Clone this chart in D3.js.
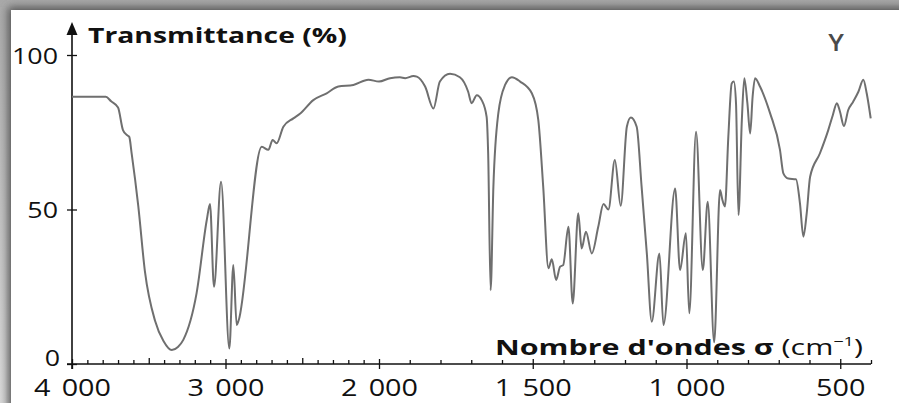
<!DOCTYPE html>
<html>
<head>
<meta charset="utf-8">
<script src="https://cdn.jsdelivr.net/npm/d3@7"></script>
<style>
  html, body { margin: 0; padding: 0; background: #ffffff; }
  svg { display: block; }
  text { font-family: "Open Sans", "Noto Sans", sans-serif; }
</style>
</head>
<body>
<svg id="chart" width="899" height="403"></svg>
<script>
// Infrared spectrum of compound Y
// wavenumber sigma (cm^-1), descending
const wavenumbers = [
  4000, 3780, 3745, 3700, 3668, 3640, 3627, 3611, 3568, 3525, 3459, 3405, 3350, 3310, 3275, 3188, 3122,
  3101, 3075, 3029, 2975, 2949, 2927, 2915, 2764, 2721, 2693, 2667, 2623, 2558, 2515, 2428, 2341, 2265,
  2167, 2069, 2000, 1964, 1932, 1915, 1888, 1877, 1850, 1823, 1802, 1769, 1737, 1710, 1699, 1682, 1666,
  1650, 1645, 1637, 1628, 1612, 1590, 1568, 1541, 1503, 1482, 1466, 1449, 1438, 1424, 1411, 1401, 1384,
  1370, 1352, 1341, 1327, 1308, 1287, 1270, 1254, 1233, 1214, 1194, 1181, 1162, 1146, 1129, 1113, 1088,
  1075, 1037, 1021, 1002, 991, 969, 947, 931, 910, 891, 883, 875, 864, 853, 846, 839, 831, 820, 812, 802,
  793, 785, 777, 761, 728, 696, 685, 669, 644, 631, 620, 609, 598, 566, 539, 524, 511, 501, 488, 474, 458,
  441, 425, 414, 401
];
// transmittance (%) at each wavenumber
const transmittance = [
  86.5, 86.5, 85.0, 83.0, 75.7, 74.0, 73.5, 68.0, 51.0, 30.0, 14.0, 7.5, 4.5, 5.5, 7.8, 23.0, 46.6,
  51.8, 25.0, 59.0, 5.0, 32.0, 12.6, 14.0, 70.3, 69.3, 72.5, 71.4, 76.8, 79.5, 81.0, 85.4, 87.6, 89.8,
  90.3, 92.0, 91.4, 92.5, 92.8, 92.5, 93.2, 93.0, 89.8, 82.7, 91.4, 93.9, 92.8, 88.1, 84.4, 87.0, 85.4,
  80.0, 68.2, 23.9, 57.4, 81.1, 90.3, 92.8, 91.4, 87.6, 79.0, 57.4, 31.0, 33.9, 27.2, 31.5, 32.0, 44.4,
  19.6, 48.8, 37.4, 42.8, 35.8, 44.4, 51.8, 50.0, 66.0, 51.2, 76.8, 79.8, 76.8, 57.4, 35.8, 13.7, 35.8,
  12.6, 56.8, 30.4, 42.3, 16.4, 75.2, 30.4, 52.5, 7.0, 56.3, 53.0, 51.0, 73.5, 90.8, 91.4, 84.4, 48.2,
  79.0, 92.5, 84.4, 74.6, 86.5, 92.5, 89.8, 81.1, 69.3, 61.7, 60.0, 59.8, 52.0, 41.2, 48.8, 60.6, 68.2,
  75.7, 80.6, 84.4, 81.7, 77.0, 82.2, 84.9, 88.1, 92.0, 87.6, 79.5
];

// Axis ticks
const xTickValues = [4000, 3000, 2000, 1500, 1000, 500];
const xTickLabels = ["4 000", "3 000", "2 000", "1 500", "1 000", "500"];
const xMidTicks = [3500, 2500];
const xMinorTicks = d3.range(3900, 399, -100).filter(v => !xTickValues.includes(v) && !xMidTicks.includes(v));
const yTickValues = [0, 50, 100];
const yTickLabels = ["0", "50", "100"];

const svg = d3.select("#chart");
const W = 899, H = 403;

// ---- page background with a soft shadow along the top and left edges ----
const defs = svg.append("defs");
const blur = defs.append("filter").attr("id", "soft").attr("x", "-10%").attr("y", "-10%").attr("width", "120%").attr("height", "120%");
blur.append("feGaussianBlur").attr("stdDeviation", 4);
const topGrad = defs.append("linearGradient").attr("id", "topGrad").attr("x1", 0).attr("y1", 0).attr("x2", 0).attr("y2", 1);
topGrad.append("stop").attr("offset", "0%").attr("stop-color", "#a9a9a9");
topGrad.append("stop").attr("offset", "100%").attr("stop-color", "#d9d9d9");

svg.append("rect").attr("width", W).attr("height", H).attr("fill", "url(#topGrad)");
svg.append("rect").attr("x", 8).attr("y", 7).attr("width", W + 20).attr("height", H + 20)
  .attr("fill", "#555").attr("filter", "url(#soft)");
svg.append("rect").attr("x", 11).attr("y", 10).attr("width", W + 20).attr("height", H + 20)
  .attr("fill", "#ffffff");

// ---- scales: the wavenumber axis doubles its scale below 2000 cm-1 ----
const x = d3.scaleLinear().domain([4000, 2000, 400]).range([72, 379, 871]);
const y = d3.scaleLinear().domain([0, 100]).range([364, 55]);

const axisColor = "#111";

// minor ticks (inside, pointing up)
const gMinor = svg.append("g").attr("transform", `translate(0,${y(0)})`)
  .call(d3.axisBottom(x).tickValues(xMinorTicks).tickSize(-4).tickFormat(""));
const gMid = svg.append("g").attr("transform", `translate(0,${y(0)})`)
  .call(d3.axisBottom(x).tickValues(xMidTicks).tickSize(-6).tickFormat(""));
const gMajor = svg.append("g").attr("transform", `translate(0,${y(0)})`)
  .call(d3.axisBottom(x).tickValues(xTickValues).tickSize(5)
    .tickFormat((d, i) => xTickLabels[i]));
[gMinor, gMid, gMajor].forEach(g => {
  g.select(".domain").remove();
  g.selectAll(".tick line").attr("stroke", axisColor).attr("stroke-width", 1.3);
});
gMajor.selectAll(".tick line").attr("y1", -5).attr("y2", 5);
gMajor.selectAll(".tick text")
  .attr("y", null).attr("dy", null)
  .attr("transform", "translate(0,32) scale(1.25,1)")
  .attr("fill", "#111")
  .style("font-size", "23px")
  .style("word-spacing", "3px");

// x axis line
svg.append("line").attr("x1", 67).attr("x2", 871).attr("y1", y(0)).attr("y2", y(0))
  .attr("stroke", axisColor).attr("stroke-width", 1.6);

// y axis with crossing ticks
const gY = svg.append("g").attr("transform", `translate(${x(4000)},0)`)
  .call(d3.axisLeft(y).tickValues(yTickValues).tickSize(5).tickFormat((d, i) => yTickLabels[i]));
gY.select(".domain").remove();
gY.selectAll(".tick line").attr("x1", -5).attr("x2", 5).attr("stroke", axisColor).attr("stroke-width", 1.3);
gY.selectAll(".tick text")
  .attr("x", null).attr("dy", null)
  .attr("text-anchor", "end")
  .attr("transform", d => d === 0 ? "translate(-12,1) scale(1.22,1)" : "translate(-14,8) scale(1.22,1)")
  .attr("fill", "#111")
  .style("font-size", "22px");

svg.append("line").attr("x1", x(4000)).attr("x2", x(4000)).attr("y1", y(0) + 5).attr("y2", 34)
  .attr("stroke", axisColor).attr("stroke-width", 1.6);
svg.append("path")
  .attr("d", d3.line()([[x(4000) - 5.5, 35], [x(4000), 22], [x(4000) + 5.5, 35]]) + "Z")
  .attr("fill", axisColor);

// ---- spectrum trace ----
const pts = wavenumbers.map((s, i) => [s, transmittance[i]]);
svg.append("path")
  .datum(pts)
  .attr("fill", "none")
  .attr("stroke", "#6f6f6f")
  .attr("stroke-width", 2)
  .attr("stroke-linejoin", "round")
  .attr("d", d3.line().x(d => x(d[0])).y(d => y(d[1])).curve(d3.curveMonotoneX));

// ---- titles, stretched horizontally to their set widths ----
function fitWidth(sel, left, baseline, width) {
  const w = sel.node().getComputedTextLength();
  sel.attr("transform", `translate(${left},${baseline}) scale(${width / w},1)`);
}

const yTitle = svg.append("text").attr("fill", "#111").style("font-size", "21px").style("font-weight", 700)
  .text("Transmittance (%)");
fitWidth(yTitle, 88, 43, 259);

const xTitle = svg.append("text").attr("fill", "#111").style("font-size", "22px");
xTitle.append("tspan").style("font-weight", 700).text("Nombre d'ondes σ ");
xTitle.append("tspan").text("(cm");
xTitle.append("tspan").style("font-size", "13px").attr("dy", -9).text("−1");
xTitle.append("tspan").attr("dy", 9).text(")");
fitWidth(xTitle, 495, 355, 368);

const label = svg.append("text").attr("fill", "#4a4a4a").style("font-size", "24px").style("font-weight", 600)
  .attr("text-anchor", "middle").attr("transform", "translate(836,51) scale(1.1,1)")
  .text("Y");
</script>
</body>
</html>
